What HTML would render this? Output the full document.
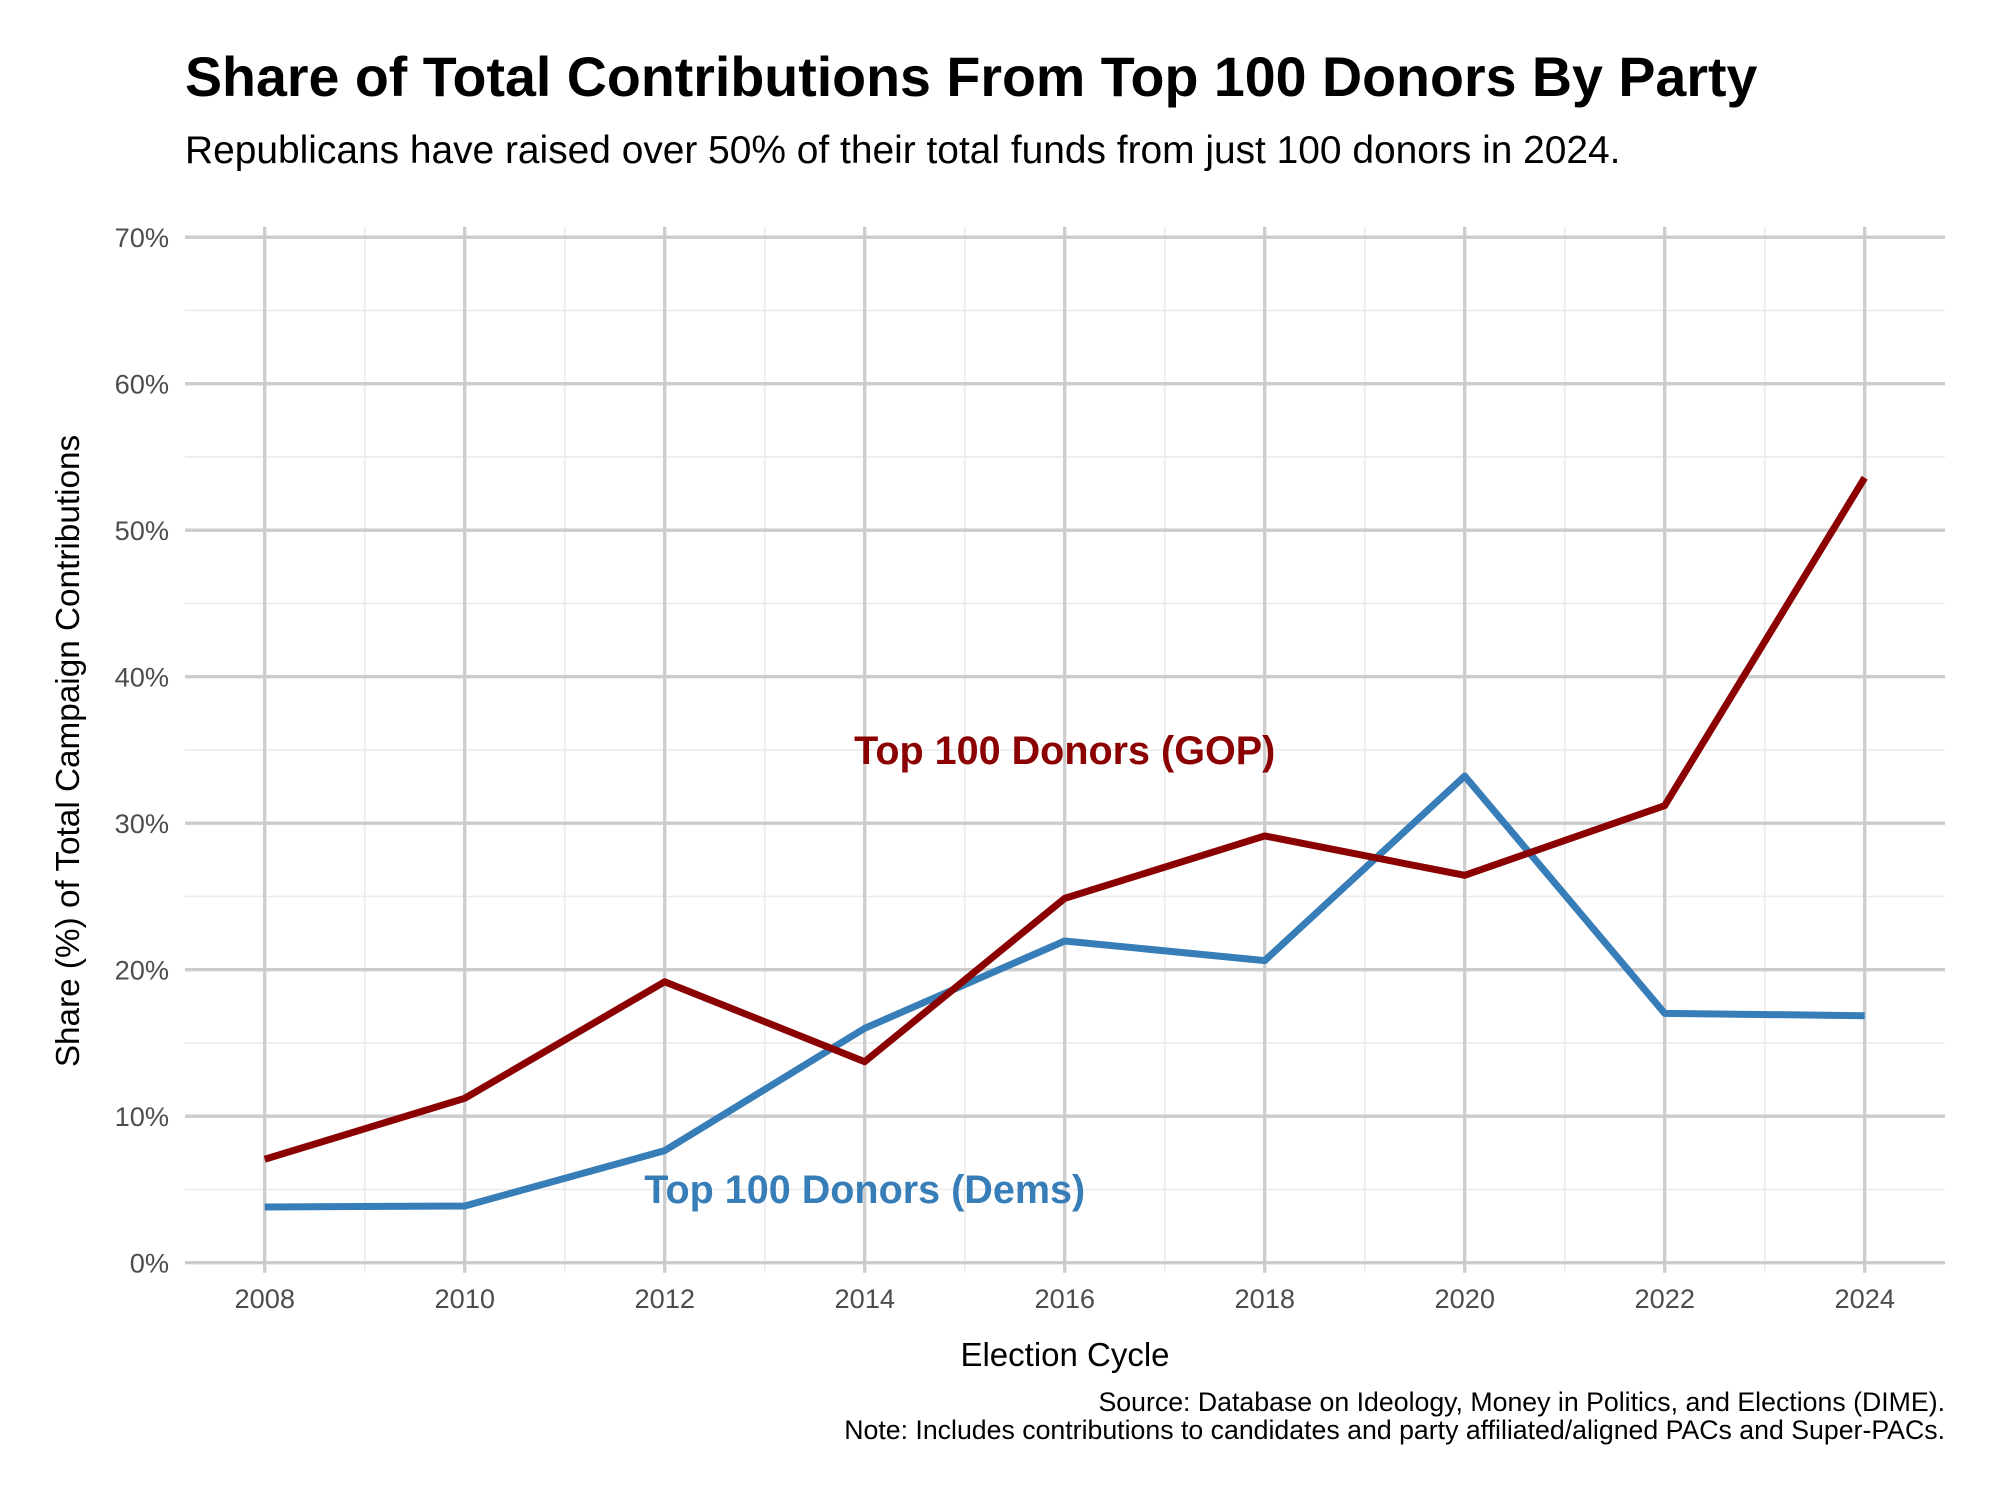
<!DOCTYPE html>
<html lang="en">
<head>
<meta charset="utf-8">
<title>Share of Total Contributions From Top 100 Donors By Party</title>
<style>
html,body{margin:0;padding:0;background:#fff;width:2000px;height:1500px;overflow:hidden}
svg{display:block}
text{font-family:"Liberation Sans",Arial,Helvetica,sans-serif}
</style>
</head>
<body>
<svg id="chart" xmlns="http://www.w3.org/2000/svg" width="2000" height="1500" viewBox="0 0 2000 1500">
  <rect width="2000" height="1500" fill="#fff"/>
  <text x="185" y="96" font-size="55.57" font-weight="700" fill="#000">Share of Total Contributions From Top 100 Donors By Party</text>
  <text x="185" y="163" font-size="38.9" fill="#000">Republicans have raised over 50% of their total funds from just 100 donors in 2024.</text>
  <g id="grid"></g>
  <g id="x-ticks"></g>
  <g id="y-ticks"></g>
  <g id="series"></g>
  <text id="label-gop" text-anchor="middle" font-size="39.55" font-weight="700" fill="#8B0000">Top 100 Donors (GOP)</text>
  <text id="label-dem" text-anchor="middle" font-size="39.55" font-weight="700" fill="#377EB8">Top 100 Donors (Dems)</text>
  <text x="1065" y="1366" text-anchor="middle" font-size="33" fill="#000">Election Cycle</text>
  <text transform="translate(79,751) rotate(-90)" text-anchor="middle" font-size="33.3" fill="#000">Share (%) of Total Campaign Contributions</text>
  <text x="1945" y="1411" text-anchor="end" font-size="26.7" fill="#000">Source: Database on Ideology, Money in Politics, and Elections (DIME).</text>
  <text x="1945" y="1439" text-anchor="end" font-size="26.7" fill="#000">Note: Includes contributions to candidates and party affiliated/aligned PACs and Super-PACs.</text>
</svg>
<script>
const years = [2008, 2010, 2012, 2014, 2016, 2018, 2020, 2022, 2024];
const gopShare = [7.06, 11.22, 19.18, 13.72, 24.87, 29.13, 26.44, 31.2, 53.58];
const demShare = [3.8, 3.87, 7.65, 16.0, 21.96, 20.62, 33.22, 17.02, 16.86];
const yTicks = [0, 10, 20, 30, 40, 50, 60, 70];
const yMinor = [5, 15, 25, 35, 45, 55, 65];
const xMinor = [2009, 2011, 2013, 2015, 2017, 2019, 2021, 2023];

const NS = 'http://www.w3.org/2000/svg';
const panel = { left: 185, right: 1945, top: 226.7, bottom: 1272.7 };
const x = function (year) { return 264.7 + (year - 2008) * 100; };
const y = function (value) { return 1262.7 - value * 14.65; };

const grid = document.getElementById('grid');
const xTickGroup = document.getElementById('x-ticks');
const yTickGroup = document.getElementById('y-ticks');
const seriesGroup = document.getElementById('series');

function makeLine(x1, y1, x2, y2, color, width) {
  const l = document.createElementNS(NS, 'line');
  l.setAttribute('x1', x1);
  l.setAttribute('y1', y1);
  l.setAttribute('x2', x2);
  l.setAttribute('y2', y2);
  l.setAttribute('stroke', color);
  l.setAttribute('stroke-width', width);
  return l;
}

xMinor.forEach(function (v) {
  const l = makeLine(x(v), panel.top, x(v), panel.bottom, '#EBEBEB', 1.6);
  
  
  grid.appendChild(l);
});
yMinor.forEach(function (v) {
  const l = makeLine(panel.left, y(v), panel.right, y(v), '#EBEBEB', 1.6);
  
  
  grid.appendChild(l);
});
years.forEach(function (v) {
  const l = makeLine(x(v), panel.top, x(v), panel.bottom, '#CCCCCC', 3.3);
  
  
  grid.appendChild(l);
  const t = document.createElementNS(NS, 'text');
  t.setAttribute('x', x(v));
  t.setAttribute('y', 1308);
  t.setAttribute('text-anchor', 'middle');
  t.setAttribute('font-size', '27.2');
  t.setAttribute('fill', '#4D4D4D');
  
  
  t.textContent = v;
  xTickGroup.appendChild(t);
});
yTicks.forEach(function (v) {
  const l = makeLine(panel.left, y(v), panel.right, y(v), '#CCCCCC', 3.3);
  
  
  grid.appendChild(l);
  const t = document.createElementNS(NS, 'text');
  t.setAttribute('x', 169);
  t.setAttribute('y', y(v) + 9.7);
  t.setAttribute('text-anchor', 'end');
  t.setAttribute('font-size', '27.2');
  t.setAttribute('fill', '#4D4D4D');
  
  
  t.textContent = v + '%';
  yTickGroup.appendChild(t);
});

function pointsFor(values) {
  return values.map(function (v, i) { return x(years[i]) + ',' + y(v); }).join(' ');
}

const demLine = document.createElementNS(NS, 'polyline');
demLine.setAttribute('points', pointsFor(demShare));
demLine.setAttribute('fill', 'none');
demLine.setAttribute('stroke', '#377EB8');
demLine.setAttribute('stroke-width', '7');
demLine.setAttribute('stroke-linejoin', 'round');
demLine.setAttribute('stroke-linecap', 'butt');


seriesGroup.appendChild(demLine);

const gopLine = document.createElementNS(NS, 'polyline');
gopLine.setAttribute('points', pointsFor(gopShare));
gopLine.setAttribute('fill', 'none');
gopLine.setAttribute('stroke', '#8B0000');
gopLine.setAttribute('stroke-width', '7');
gopLine.setAttribute('stroke-linejoin', 'round');
gopLine.setAttribute('stroke-linecap', 'butt');


seriesGroup.appendChild(gopLine);

const labelGop = document.getElementById('label-gop');
labelGop.setAttribute('x', x(2016));
labelGop.setAttribute('y', y(34.03));
const labelDem = document.getElementById('label-dem');
labelDem.setAttribute('x', x(2014));
labelDem.setAttribute('y', y(4.07));
</script>
</body>
</html>
